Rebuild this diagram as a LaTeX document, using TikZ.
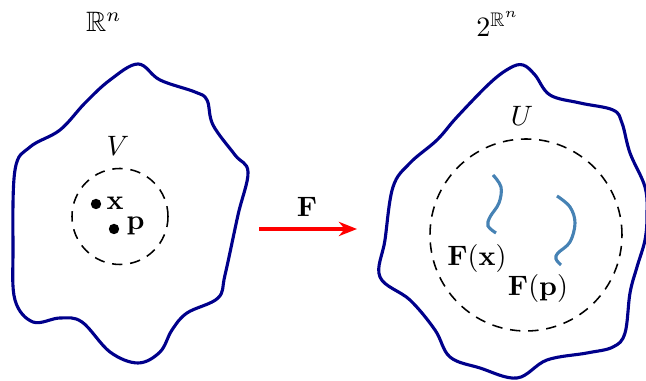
\documentclass[tikz,border=0pt]{standalone}
\usepackage{amsmath,amssymb}
\usetikzlibrary{arrows.meta}
\definecolor{blobblue}{RGB}{0,0,139}
\definecolor{curveblue}{RGB}{70,130,180}
\tikzset{
  blob/.style={draw=blobblue, line width=1.2pt},
  ball/.style={draw=black, line width=0.6pt, dash pattern=on 4pt off 3pt},
  setcurve/.style={draw=curveblue, line width=1.2pt},
  lbl/.style={inner sep=0pt, scale=1.08},
  pt/.style={circle, fill=black, inner sep=0pt, minimum size=4pt}
}
\begin{document}
\begin{tikzpicture}[x=0.385pt,y=-0.385pt]
\useasboundingbox (0,0) rectangle (646,381);
\clip (0,0) rectangle (646,381);
% left blob
\draw[blob] plot[smooth cycle, tension=0.6] coordinates {
(138,64) (160,80) (195,92) (207,100) (213,125) (235,155) (248,172)
(238,215) (225,275) (218,298) (187,313) (172,330) (160,352) (138,363)
(110,352) (82,322) (60,318) (33,322) (15,300) (13,250) (15,170)
(30,147) (60,130) (85,103) (110,80)};
% right blob
\draw[blob] plot[smooth cycle, tension=0.6] coordinates {
(523,65) (535,75) (550,95) (580,103) (613,110) (622,123) (630,153)
(645,187) (647,215) (645,240) (637,267) (630,293) (625,333) (613,347)
(587,353) (547,360) (517,378) (480,368) (450,357) (435,330) (410,300)
(380,277) (385,240) (393,187) (410,163) (437,140) (457,117) (490,83) (510,68)};
% circles
\node[circle, minimum size=96*0.385pt, ball] (V) at (120,216.5) {};
\node[circle, minimum size=192*0.385pt, ball] (U) at (526,235) {};
\node[lbl] (Vl) at (118,146) {$V$};
\node[lbl] (Ul) at (522,116) {$U$};
\node[lbl] (R) at (104,22) {$\mathbb{R}^n$};
\node[lbl] (P) at (498,24) {$2^{\mathbb{R}^n}$};
% points
\node[pt] (x) at (96,204) {};
\node[pt] (p) at (114,229) {};
\node[lbl, anchor=west] (xl) at (106,203) {$\mathbf{x}$};
\node[lbl, anchor=west] (pl) at (126,226) {$\mathbf{p}$};
% arrow
\coordinate (a1) at (259,229);
\coordinate (a2) at (357,229);
\draw[red, line width=1.6pt, -{Stealth[length=7pt,width=5.5pt]}] (a1) -- (a2);
\node[lbl] (Fl) at (307,207) {$\mathbf{F}$};
% curves
\draw[setcurve] plot[smooth, tension=0.6] coordinates {(493,175) (501,187) (499,203) (490,217) (488,226) (496,233)};
\draw[setcurve] plot[smooth, tension=0.6] coordinates {(557,196) (570,207) (575,223) (570,242) (558,253) (556,259) (561,265)};
\node[lbl] (Fx) at (477,258) {$\mathbf{F}(\mathbf{x})$};
\node[lbl] (Fp) at (538,288) {$\mathbf{F}(\mathbf{p})$};
\end{tikzpicture}
\end{document}
